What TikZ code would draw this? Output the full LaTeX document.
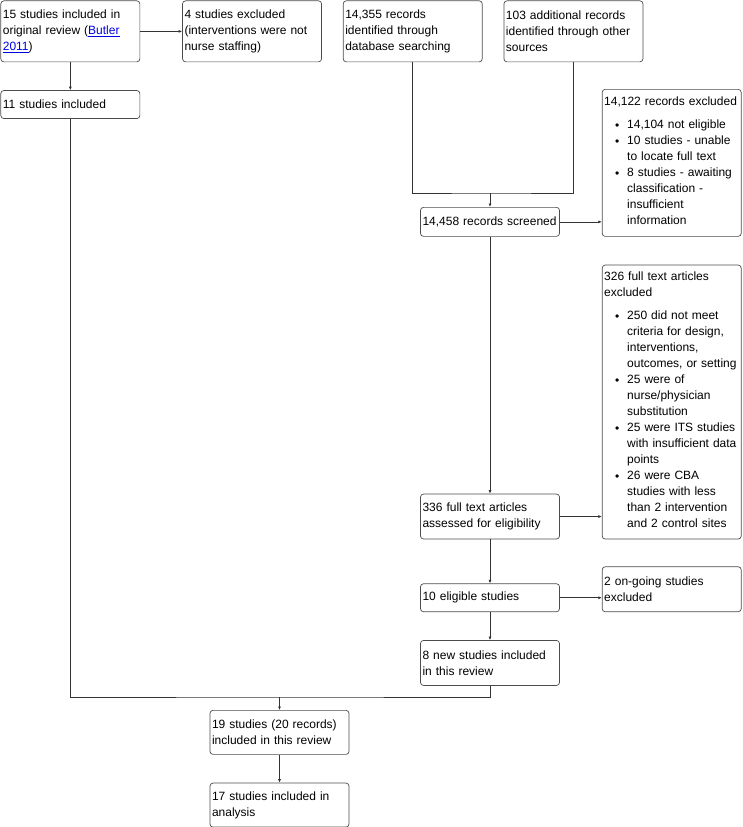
\documentclass[tikz,border=0pt]{standalone}
\usepackage{fontspec}
\setmainfont{Liberation Sans}
\usetikzlibrary{arrows.meta,positioning}
\definecolor{linkblue}{RGB}{0,0,230}
\newcommand{\reflink}[1]{\textcolor{linkblue}{\underline{#1}}}
\newcommand{\dotitem}{\makebox[12pt][l]{\raisebox{-1pt}{\textbullet}}}
\newcommand{\cont}{\hspace*{12pt}}

\begin{document}
\begin{tikzpicture}[
    x=1pt, y=1pt,
    flowbox/.style={
      draw=black!70,
      line width=0.7pt,
      rounded corners=3pt,
      align=left,
      text width=135pt,
      inner xsep=2pt,
      inner ysep=4pt,
      font=\fontsize{12}{16}\selectfont,
    },
    arrow/.style={
      -{Latex[length=3.5pt,width=3pt]},
      line width=0.7pt,
      draw=black!80,
    },
    link/.style={
      line width=0.7pt,
      draw=black!80,
    },
  ]
  \useasboundingbox (0,0) rectangle (742,-827);

  \node[flowbox, minimum height=61pt, anchor=north west] (orig) at (0.5,-0.5) {%
    15 studies included in\\
    original review (\reflink{Butler}\\
    \reflink{2011})};
  \node[flowbox, minimum height=61pt, right=42pt of orig] (notstaff) {%
    4 studies excluded\\
    (interventions were not\\
    nurse staffing)};
  \node[flowbox, minimum height=61pt, right=21pt of notstaff] (dbsearch) {%
    14,355 records\\
    identified through\\
    database searching};
  \node[flowbox, minimum height=61pt, right=21pt of dbsearch] (othersrc) {%
    103 additional records\\
    identified through other\\
    sources};
  \node[flowbox, minimum height=28pt, below=28pt of orig] (origkept) {11 studies included};

  \node[flowbox, minimum height=29pt, anchor=north] (screened) at (490,-207) {14,458 records screened};
  \node[flowbox, minimum height=147pt, right=42pt of screened.south east, anchor=south west] (recexcl) {%
    14,122 records excluded\\[7pt]
    \begin{tabular}[t]{@{\hspace{11pt}}l@{}}
      \dotitem 14,104 not eligible\\
      \dotitem 10 studies - unable\\
      \cont to locate full text\\
      \dotitem 8 studies - awaiting\\
      \cont classification -\\
      \cont insufficient\\
      \cont information
    \end{tabular}};
  \node[flowbox, minimum height=45pt, below=257pt of screened] (fulltext) {%
    336 full text articles\\
    assessed for eligibility};
  \node[flowbox, minimum height=274pt, right=42pt of fulltext.south east, anchor=south west] (ftexcl) {%
    326 full text articles\\
    excluded\\[7pt]
    \begin{tabular}[t]{@{\hspace{11pt}}l@{}}
      \dotitem 250 did not meet\\
      \cont criteria for design,\\
      \cont interventions,\\
      \cont outcomes, or setting\\
      \dotitem 25 were of\\
      \cont nurse/physician\\
      \cont substitution\\
      \dotitem 25 were ITS studies\\
      \cont with insufficient data\\
      \cont points\\
      \dotitem 26 were CBA\\
      \cont studies with less\\
      \cont than 2 intervention\\
      \cont and 2 control sites
    \end{tabular}};
  \node[flowbox, minimum height=28pt, below=44pt of fulltext] (eligible) {10 eligible studies};
  \node[flowbox, minimum height=45pt, right=42pt of eligible.south east, anchor=south west] (ongoing) {%
    2 on-going studies\\
    excluded};
  \node[flowbox, minimum height=45pt, below=28pt of eligible] (newincl) {%
    8 new studies included\\
    in this review};

  \node[flowbox, minimum height=44pt, anchor=north] (included) at (279.5,-710) {%
    19 studies (20 records)\\
    included in this review};
  \node[flowbox, minimum height=44pt, below=28pt of included] (analysed) {%
    17 studies included in\\
    analysis};

  \coordinate (dbjoin) at ([yshift=14pt]screened.north);
  \coordinate (mergept) at ([yshift=13pt]included.north);

  \draw[arrow] (orig) -- (notstaff);
  \draw[arrow] (orig) -- (origkept);
  \draw[link] (dbsearch) |- (dbjoin) -| (othersrc);
  \draw[arrow] (dbjoin) -- (screened);
  \draw[arrow] (screened.east) -- (screened.east -| recexcl.west);
  \draw[arrow] (screened) -- (fulltext);
  \draw[arrow] (fulltext.east) -- (fulltext.east -| ftexcl.west);
  \draw[arrow] (fulltext) -- (eligible);
  \draw[arrow] (eligible.east) -- (eligible.east -| ongoing.west);
  \draw[arrow] (eligible) -- (newincl);
  \draw[link] (origkept) |- (mergept) -| (newincl);
  \draw[arrow] (mergept) -- (included);
  \draw[arrow] (included) -- (analysed);
\end{tikzpicture}
\end{document}
